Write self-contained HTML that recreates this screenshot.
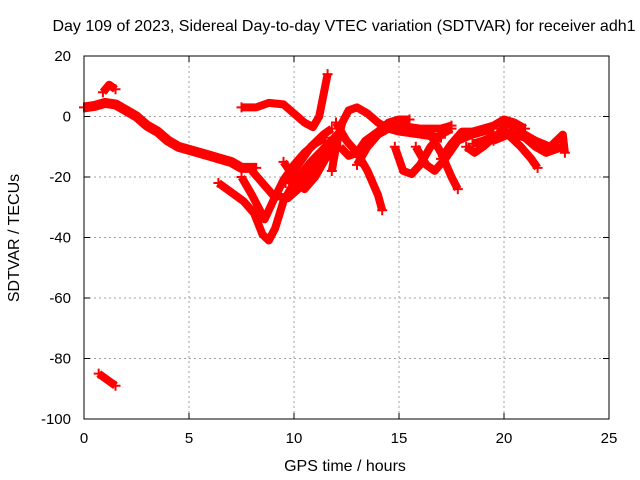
<!DOCTYPE html>
<html><head><meta charset="utf-8"><style>
body{margin:0;background:#fff}
svg{display:block;font-family:"Liberation Sans",sans-serif}
</style></head><body>
<svg id="chart" width="640" height="480">
<rect width="640" height="480" fill="#fff"/>
<text x="344" y="31" font-size="16" text-anchor="middle">Day 109 of 2023, Sidereal Day-to-day VTEC variation (SDTVAR) for receiver adh1</text>
<text x="19" y="238" font-size="16" text-anchor="middle" transform="rotate(-90 19 238)">SDTVAR / TECUs</text>
<text x="345" y="471" font-size="16" text-anchor="middle">GPS time / hours</text>
<g id="grid"></g>
<g id="series"></g>
<rect x="84" y="56" width="525" height="363" fill="none" stroke="#000" stroke-width="1"/>
</svg>
<script>
const xTicks=[0,5,10,15,20,25];
const yTicks=[20,0,-20,-40,-60,-80,-100];
const sA_x=[0,0.5,1,1.5,2,2.5,3,3.5,4,4.5,5,5.5,6,6.5,7,7.5,8.2];
const sA_y=[3,3.5,4.5,4,2,0,-3,-5,-8,-10,-11,-12,-13,-14,-15,-17,-17];
const sB_x=[0.9,1.2,1.5]; const sB_y=[8,10.5,9];
const sC_x=[0.7,1.1,1.5]; const sC_y=[-85,-87,-89];
const sD_x=[7.5,8.2,8.8,9.5,10,10.5,10.9,11.2,11.4,11.6]; const sD_y=[3,3,4.5,4,1,-2,-3.5,0,7,14];
const sE_x=[6.4,7,7.6,8.1,8.5,8.8,9.1,9.5,10,10.8,11.5,12.2]; const sE_y=[-22,-25,-28,-32,-39,-41,-37,-28,-22,-15,-10,-5];
const sF_x=[7.5,8,8.6,9,9.5,10,10.5,11,11.5]; const sF_y=[-20,-26,-34,-28,-21,-16,-12,-9,-7];
const sG_x=[8,8.5,9,9.7,10.2,10.8,11.5,12]; const sG_y=[-18,-22,-26,-27,-24,-18,-12,-8];
const sH_x=[9.5,10,10.5,11,11.5,12]; const sH_y=[-15,-20,-24,-20,-14,-10];
const sI_x=[9.6,10.2,10.8,11.4,11.8]; const sI_y=[-22,-16,-10,-6,-4];
const sJ_x=[11.8,12,12.3,12.6,13,13.5,14,14.5,15,16,17]; const sJ_y=[-18,-10,-2,2,3,1,-2,-4,-5,-6,-7];
const sK_x=[12,12.5,13,13.5,14,14.2]; const sK_y=[-2,-8,-12,-18,-26,-31];
const sL_x=[12.2,12.6,13,13.4,14,14.5,15,15.5]; const sL_y=[-10,-13,-12,-8,-5,-2,-1,-1];
const sM_x=[13,13.5,14,14.5,15,16,17,17.5]; const sM_y=[-16,-10,-6,-4,-3,-4,-4,-3];
const sN_x=[14.8,15.2,15.6,16,16.5,17,17.5]; const sN_y=[-10,-18,-19,-16,-10,-6,-4];
const sO_x=[15.8,16.3,16.7,17.2,17.8,18.5,19.5]; const sO_y=[-10,-16,-18,-14,-8,-6,-4];
const sP_x=[16.5,17,17.5,17.8]; const sP_y=[-6,-12,-20,-24];
const sQ_x=[17,17.5,18,18.5,19.5,20,20.5,21]; const sQ_y=[-14,-9,-5,-5,-3,-1,-2,-4];
const sR_x=[18.2,18.6,19,19.5,20,21,21.5,22,22.8]; const sR_y=[-10,-12,-10,-7,-5,-7,-10,-12,-10];
const sS_x=[19.5,20.2,20.8,21.3,21.6]; const sS_y=[-8,-6,-10,-14,-17];
const sT_x=[20.5,21.5,22.2,22.8,22.9]; const sT_y=[-4,-8,-10,-6,-12];
const sU_x=[18.5,19,19.7,20.2,20.5]; const sU_y=[-9,-8,-6,-2,-4];
const seriesX=[sA_x,sB_x,sC_x,sD_x,sE_x,sF_x,sG_x,sH_x,sI_x,sJ_x,sK_x,sL_x,sM_x,sN_x,sO_x,sP_x,sQ_x,sR_x,sS_x,sT_x,sU_x];
const seriesY=[sA_y,sB_y,sC_y,sD_y,sE_y,sF_y,sG_y,sH_y,sI_y,sJ_y,sK_y,sL_y,sM_y,sN_y,sO_y,sP_y,sQ_y,sR_y,sS_y,sT_y,sU_y];

const X0=84,X1=609,Y0=419,Y1=56;
function sx(v){return X0+(v-0)/25*(X1-X0);}
function sy(v){return Y0-(v+100)/120*(Y0-Y1);}
const NS="http://www.w3.org/2000/svg";
const grid=document.getElementById('grid');
const svg=document.getElementById('chart');
function mk(t,a){const e=document.createElementNS(NS,t);for(const k in a)e.setAttribute(k,a[k]);return e;}
xTicks.forEach(t=>{
  const x=sx(t);
  if(t>0&&t<25){const l=mk('line',{x1:x,x2:x,y1:Y1,y2:Y0,stroke:'#a0a0a0','stroke-dasharray':'2,3'});
  
  grid.appendChild(l);}
  const tk=mk('path',{d:`M${x},${Y0}v-6M${x},${Y1}v6`,stroke:'#000'});
  
  grid.appendChild(tk);
  const tx=mk('text',{x:x,y:443,'font-size':15,'text-anchor':'middle'});tx.textContent=t;
  
  svg.appendChild(tx);
});
yTicks.forEach(t=>{
  const y=sy(t);
  if(t>-100&&t<20){const l=mk('line',{x1:X0,x2:X1,y1:y,y2:y,stroke:'#a0a0a0','stroke-dasharray':'2,3'});
  
  grid.appendChild(l);}
  const tk=mk('path',{d:`M${X0},${y}h6M${X1},${y}h-6`,stroke:'#000'});
  
  grid.appendChild(tk);
  const tx=mk('text',{x:71,y:y+5,'font-size':15,'text-anchor':'end'});tx.textContent=t;
  
  svg.appendChild(tx);
});
const sg=document.getElementById('series');
seriesX.forEach((xs,i)=>{
  const ys=seriesY[i];
  const pts=xs.map((x,j)=>sx(x).toFixed(1)+','+sy(ys[j]).toFixed(1)).join(' ');
  const p=mk('polyline',{points:pts,fill:'none',stroke:'#ff0000','stroke-width':i===0?10:8,'stroke-linejoin':'round'});
  
  
  sg.appendChild(p);
  const a=xs[0],b=ys[0],c=xs[xs.length-1],d=ys[ys.length-1];
  [[a,b],[c,d]].forEach(q=>{
    const m=mk('path',{d:`M${sx(q[0])-5},${sy(q[1])}h10M${sx(q[0])},${sy(q[1])-5}v10`,stroke:'#ff0000','stroke-width':2});
    
    
    sg.appendChild(m);
  });
});
</script>
</body></html>
